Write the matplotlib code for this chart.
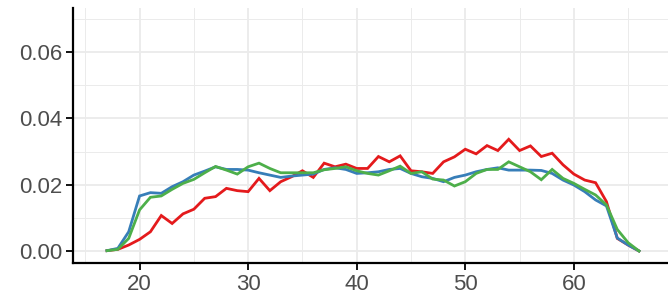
import matplotlib
matplotlib.use("Agg")
import matplotlib.pyplot as plt
import numpy as np

ages = list(range(17, 67))

red = [0.0001, 0.0005, 0.0018, 0.0035, 0.0058, 0.0107, 0.0083, 0.0112, 0.0126, 0.0159,
       0.0164, 0.0189, 0.0182, 0.0179, 0.0219, 0.0182, 0.0209, 0.0224, 0.0242, 0.0222,
       0.0265, 0.0254, 0.0262, 0.0249, 0.0249, 0.0285, 0.0269, 0.0287, 0.0242, 0.0239,
       0.0234, 0.0269, 0.0284, 0.0307, 0.0293, 0.0318, 0.0303, 0.0337, 0.0303, 0.0317,
       0.0285, 0.0295, 0.0260, 0.0232, 0.0214, 0.0206, 0.0149, 0.0038, 0.0018, 0.0000]

blue = [0.0001, 0.0008, 0.0058, 0.0166, 0.0176, 0.0174, 0.0194, 0.0209, 0.0229, 0.0241,
        0.0254, 0.0246, 0.0246, 0.0244, 0.0236, 0.0229, 0.0222, 0.0226, 0.0229, 0.0232,
        0.0246, 0.0251, 0.0246, 0.0234, 0.0236, 0.0239, 0.0246, 0.0249, 0.0234, 0.0224,
        0.0219, 0.0209, 0.0222, 0.0229, 0.0239, 0.0246, 0.0251, 0.0244, 0.0244, 0.0244,
        0.0243, 0.0234, 0.0214, 0.0199, 0.0179, 0.0154, 0.0136, 0.0039, 0.0018, 0.0000]

green = [0.0001, 0.0005, 0.0038, 0.0124, 0.0162, 0.0166, 0.0186, 0.0204, 0.0216, 0.0236,
         0.0255, 0.0244, 0.0232, 0.0254, 0.0265, 0.0249, 0.0236, 0.0236, 0.0236, 0.0236,
         0.0245, 0.0249, 0.0254, 0.0242, 0.0234, 0.0229, 0.0242, 0.0256, 0.0234, 0.0239,
         0.0217, 0.0214, 0.0196, 0.0209, 0.0234, 0.0246, 0.0246, 0.0269, 0.0254, 0.0239,
         0.0215, 0.0246, 0.0219, 0.0204, 0.0186, 0.0169, 0.0139, 0.0065, 0.0025, 0.0000]

xticks = [20, 30, 40, 50, 60]
yticks = [0.00, 0.02, 0.04, 0.06]
ytick_labels = ["0.00", "0.02", "0.04", "0.06"]

plt.rcParams['font.family'] = ['Liberation Sans', 'DejaVu Sans']

fig = plt.figure(figsize=(6.68, 2.94), dpi=100)
ax = fig.add_axes([73/668, 31/294, 595/668, 255/294])

ax.set_xlim(13.87, 68.67)
ax.set_ylim(-0.00362, 0.0733)

ax.set_xticks(xticks)
ax.set_xticks([15, 25, 35, 45, 55, 65], minor=True)
ax.set_yticks(yticks)
ax.set_yticklabels(ytick_labels)
ax.set_yticks([0.01, 0.03, 0.05, 0.07], minor=True)

ax.grid(which='major', color='#EBEBEB', linewidth=1.3)
ax.grid(which='minor', color='#EBEBEB', linewidth=0.7)
ax.set_axisbelow(True)

ax.plot(ages, red, color='#E41A1C', linewidth=2.0, solid_joinstyle='miter')
ax.plot(ages, blue, color='#377EB8', linewidth=2.0, solid_joinstyle='miter')
ax.plot(ages, green, color='#4DAF4A', linewidth=2.0, solid_joinstyle='miter')

for s in ['top', 'right']:
    ax.spines[s].set_visible(False)
for s in ['left', 'bottom']:
    ax.spines[s].set_color('black')
    ax.spines[s].set_linewidth(1.6)

ax.tick_params(which='major', length=5, width=1.3, color='black',
               labelsize=16, labelcolor='#4D4D4D', pad=3)
ax.tick_params(which='minor', length=0)

fig.savefig('out.png', dpi=100)
